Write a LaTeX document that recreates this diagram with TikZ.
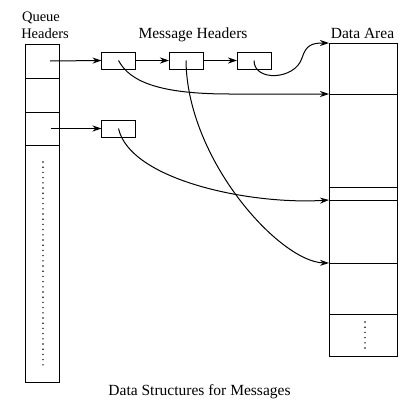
\documentclass[tikz,border=0pt]{standalone}
\usepackage{fontspec}
\setmainfont{Liberation Serif}
\usetikzlibrary{arrows.meta}
\begin{document}
\begin{tikzpicture}[x=1pt,y=-1pt,
  cell/.style={draw, line width=1pt, inner sep=0pt, outer sep=0pt, minimum width=34pt},
  dcell/.style={draw, line width=1pt, inner sep=0pt, outer sep=0pt, minimum width=68pt},
  mbox/.style={draw, line width=1pt, inner sep=0pt, outer sep=0pt, minimum width=34pt, minimum height=17pt},
  arr/.style={line width=1pt, -{Stealth[length=9pt,width=6pt,inset=3pt]}},
  lbl/.style={inner sep=0pt, anchor=base, font=\fontsize{15.5}{18}\selectfont},
  qlbl/.style={inner sep=0pt, anchor=base, font=\fontsize{14.5}{17}\selectfont}]
\useasboundingbox (0,0) rectangle (412,402);
% queue header column
\node[cell, minimum height=34pt] (q1) at (42,61) {};
\node[cell, minimum height=34pt] (q2) at (42,95) {};
\node[cell, minimum height=33pt] (q3) at (42,128.5) {};
\node[cell, minimum height=237pt] (q4) at (42,263.5) {};
\foreach \i in {0,...,39} \fill (43,162+5.2*\i) circle (0.8pt);
% data area column
\node[dcell, minimum height=51pt] (d1) at (363,68.5) {};
\node[dcell, minimum height=93pt] (d2) at (363,140.5) {};
\node[dcell, minimum height=13pt] (d3) at (363,193.5) {};
\node[dcell, minimum height=63pt] (d4) at (363,231.5) {};
\node[dcell, minimum height=51pt] (d5) at (363,288.5) {};
\node[dcell, minimum height=42pt] (d6) at (363,335) {};
\foreach \i in {0,...,5} \fill (365,322+5.2*\i) circle (0.8pt);
% message headers
\node[mbox] (m1) at (118.5,60.5) {};
\node[mbox] (m2) at (186,60.5) {};
\node[mbox] (m3) at (254,60.5) {};
\node[mbox] (m4) at (118.5,128.5) {};
% labels
\node[qlbl] (tq) at (41,21.5) {Queue};
\node[qlbl] (th) at (45,38.5) {Headers};
\node[lbl] (tm) at (193,38) {Message Headers};
\node[lbl] (td) at (362.5,38) {Data Area};
\node[lbl] (tc) at (199.5,395) {Data Structures for Messages};
% pointers
\coordinate (s1) at (50,61);
\coordinate (s3) at (51,128.5);
\draw[arr] (s1) -- (m1.west);
\draw[arr] (s3) -- (m4.west);
\draw[arr] (m1.east) -- (m2.west);
\draw[arr] (m2.east) -- (m3.west);
\draw[arr] (m1.center) .. controls (130,82) and (160,94) .. (230,94) -- (d2.north west);
\draw[arr] (m2.center) .. controls (187,160) and (280,262) .. (d5.north west);
\draw[arr] (m4.center) .. controls (130,180) and (250,205) .. (d4.north west);
\draw[arr] (m3.center) .. controls (254,82) and (295,80) .. (302,58) .. controls (306,45) and (312,43) .. (d1.north west);
\end{tikzpicture}
\end{document}
